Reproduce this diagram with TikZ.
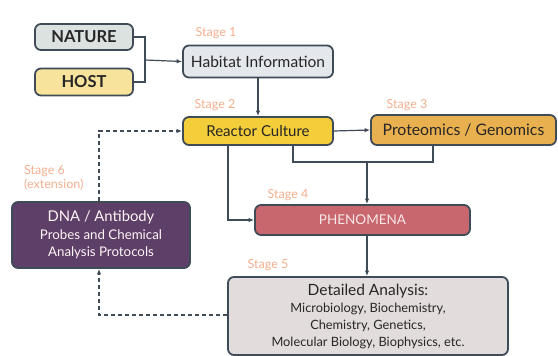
\documentclass[tikz,border=0pt]{standalone}
\usepackage{fontspec}
\setmainfont{Lato}
\usetikzlibrary{arrows.meta,positioning}
\definecolor{edgec}{HTML}{3F4B57}
\definecolor{stagec}{HTML}{F4AE8C}
\definecolor{natfill}{HTML}{DCE2E0}
\definecolor{hostfill}{HTML}{F8E39C}
\definecolor{habfill}{HTML}{E4E7EB}
\definecolor{reacfill}{HTML}{F3CD3A}
\definecolor{protfill}{HTML}{E9B04F}
\definecolor{phenfill}{HTML}{C8676D}
\definecolor{detfill}{HTML}{E2DDDC}
\definecolor{dnafill}{HTML}{5E3F68}
\tikzset{
  boxc/.style={draw=edgec, line width=1.8pt, rounded corners=6pt, inner sep=0pt, align=center, text=black!85},
  stagelbl/.style={text=stagec, font=\fontsize{12.5}{14}\selectfont, anchor=center, inner sep=0pt, align=left},
  conn/.style={draw=edgec, line width=1.2pt},
  arr/.style={conn, -{Latex[length=5.5pt,width=4.5pt]}},
  dconn/.style={conn, dash pattern=on 4pt off 3pt},
  darr/.style={dconn, -{Latex[length=5.5pt,width=4.5pt]}},
}
\begin{document}
\begin{tikzpicture}[x=1pt,y=-1pt]
\useasboundingbox (0,0) rectangle (558,356);
% boxes
\node[boxc, fill=natfill, minimum width=98pt, minimum height=26pt, font=\bfseries\fontsize{16.5}{18}\selectfont] (nature) at (84,37) {NATURE};
\node[boxc, fill=hostfill, minimum width=98pt, minimum height=27pt, font=\bfseries\fontsize{16.5}{18}\selectfont] (host) at (84,82) {HOST};
\node[boxc, fill=habfill, minimum width=150pt, minimum height=32pt, font=\fontsize{15.5}{17}\selectfont] (hab) at (258,61.5) {Habitat Information};
\node[boxc, fill=reacfill, minimum width=150pt, minimum height=28pt, font=\fontsize{15}{17}\selectfont] (reac) at (258,131) {Reactor Culture};
\node[boxc, fill=protfill, minimum width=185pt, minimum height=30pt, font=\fontsize{15.8}{17}\selectfont] (prot) at (463.5,130) {Proteomics / Genomics};
\node[boxc, fill=phenfill, minimum width=215pt, minimum height=30pt, text=white!85!phenfill, font=\fontsize{13.5}{15}\selectfont] (phen) at (362.5,220) {PHENOMENA};
\node[boxc, fill=detfill, minimum width=280pt, minimum height=78pt, font=\fontsize{12.8}{17}\selectfont] (det) at (368,316) {{\fontsize{15.5}{17}\selectfont Detailed Analysis:}\\Microbiology, Biochemistry,\\Chemistry, Genetics,\\Molecular Biology, Biophysics, etc.};
\node[boxc, fill=dnafill, minimum width=178pt, minimum height=66pt, text=white!85!pink, font=\fontsize{13.3}{17.5}\selectfont] (dna) at (101,235) {{\fontsize{14.8}{17.5}\selectfont DNA / Antibody}\\Probes and Chemical\\Analysis Protocols};
% stage labels
\node[stagelbl] (s1) at (216,33) {Stage 1};
\node[stagelbl] (s2) at (215,105) {Stage 2};
\node[stagelbl] (s3) at (407,105) {Stage 3};
\node[stagelbl] (s4) at (288,195) {Stage 4};
\node[stagelbl] (s5) at (268,265) {Stage 5};
\node[stagelbl, anchor=north west] (s6) at (24,165) {Stage 6\\(extension)};
% connectors
\coordinate (j1) at (145,60);
\draw[conn] (nature.east) -| (j1);
\draw[conn] (host.east) -| (j1);
\draw[arr] (j1) -- (hab.west);
\draw[arr] (hab.south) -- (reac.north);
\draw[arr] (reac.east) -- (prot.west);
\coordinate (j2) at (367,162);
\draw[conn] (reac.south -| 293,0) |- (j2);
\draw[conn] (prot.south -| 433,0) |- (j2);
\draw[arr] (j2) -- (phen.north -| j2);
\draw[arr] (reac.south -| 228,0) |- (phen.west);
\draw[arr] (phen.south -| 367,0) -- (det.north -| 367,0);
\draw[darr] (dna.north -| 99,0) |- (reac.west);
\draw[darr] (det.west |- 0,315) -| (dna.south -| 99,0);
\end{tikzpicture}
\end{document}
